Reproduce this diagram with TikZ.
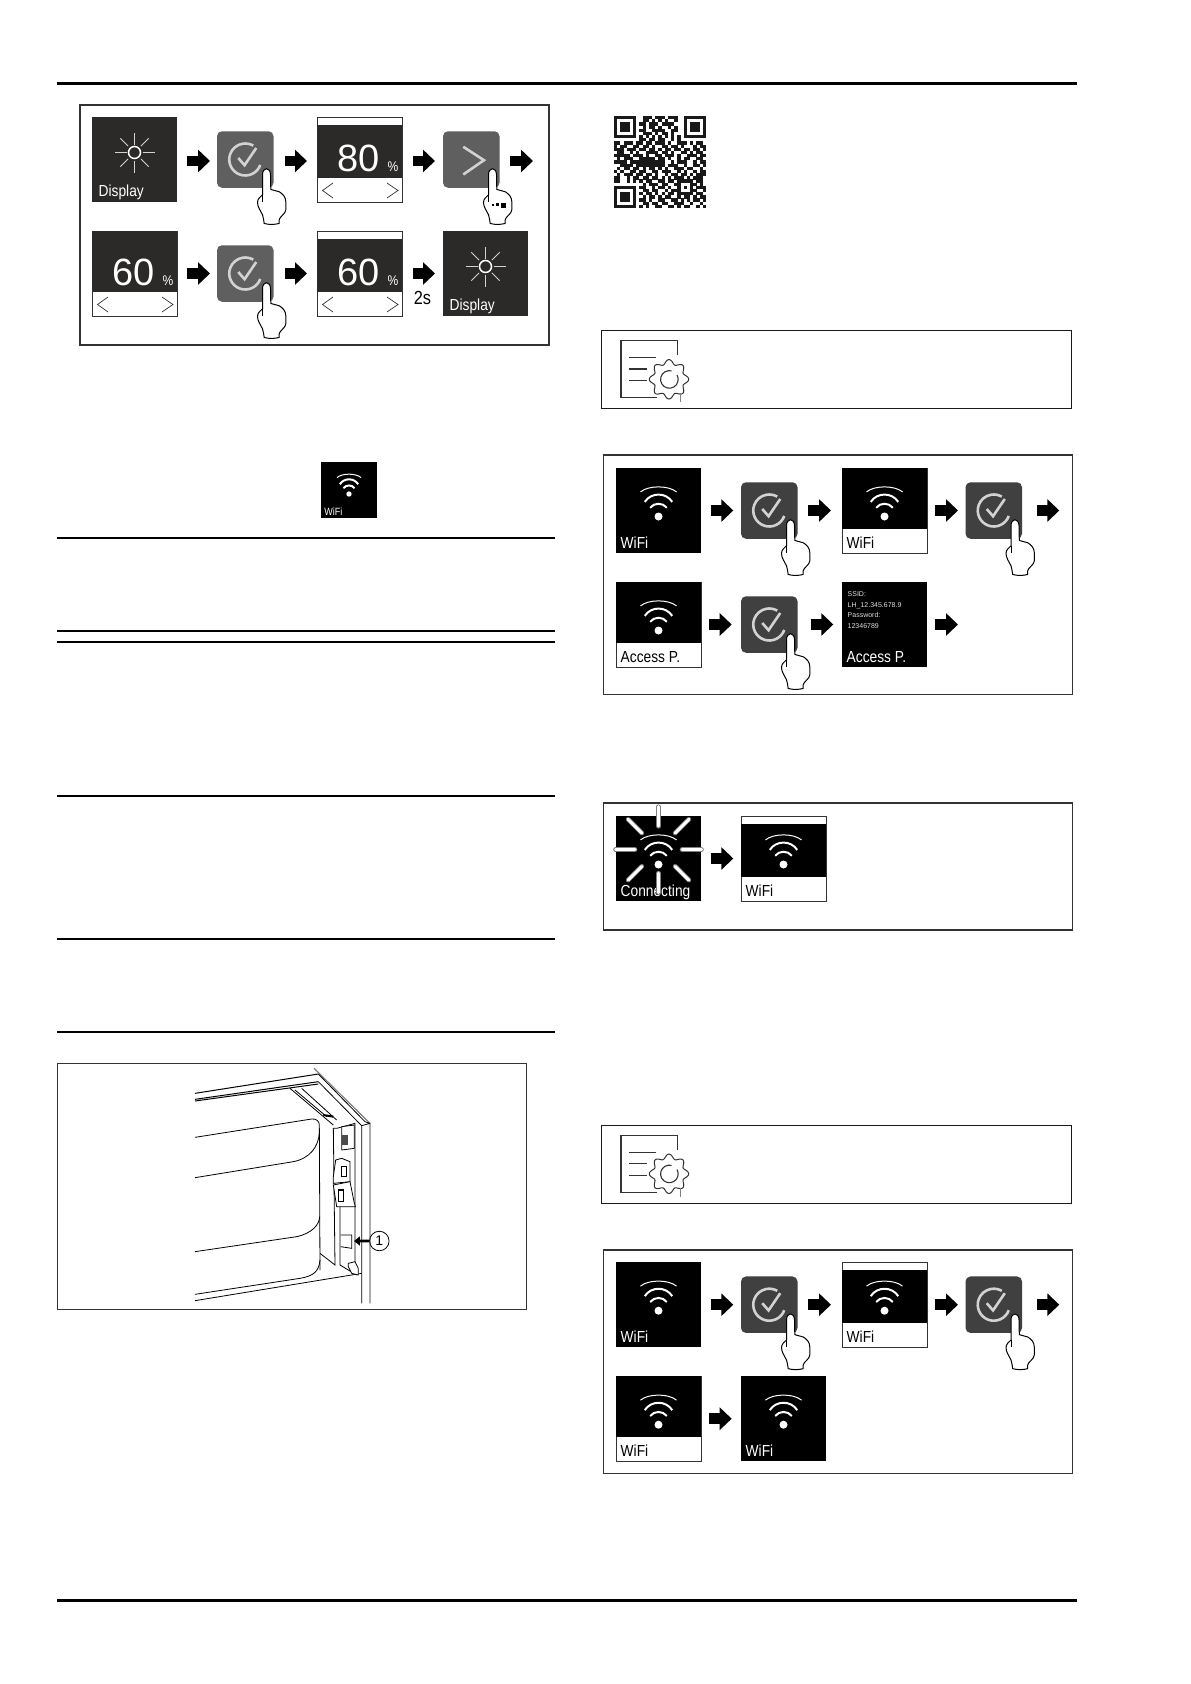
\documentclass[tikz,border=0pt]{standalone}
\usepackage{fontspec}
\usepackage{tikz}
\usetikzlibrary{arrows.meta,positioning}
\setmainfont{Liberation Sans}
\newfontfamily\lcdfont[FakeStretch=0.86]{Liberation Sans}
\definecolor{slate}{HTML}{2B2A29}
\definecolor{btnA}{HTML}{5F5F5F}
\definecolor{btnB}{HTML}{404040}
\definecolor{framegray}{HTML}{333333}
\definecolor{glyph}{HTML}{D2D2D2}
\newcommand{\Band}[3]{\fill[#3] ([yshift=-#2]#1.north west) rectangle ([yshift=24pt]#1.south east);}
\newcommand{\Caption}[4][xshift=4.5pt,yshift=5pt]{\node[caption, text=#4] (#2txt) at ([#1]#2.south west) {#3};}
\newcommand{\Sun}[1]{\begin{scope}[shift={(#1)}, yshift=7pt]
    \draw[white, line width=1.5pt] (0,0) circle (6);
    \foreach \a in {0,90,180,270} \draw[glyph, line width=.9pt] (\a:8) -- (\a:20);
    \foreach \a in {45,135,225,315} \draw[glyph, line width=.9pt] (\a:9) -- (\a:20);
  \end{scope}}
\newcommand{\Wlan}[2][1]{\begin{scope}[shift={(#2)}, scale=#1]
    \fill[white] (0,6) circle (4);
    \draw[white, line width=2pt] (-8.3,-2.7) .. controls (-4.5,-8.1) and (4.5,-8.1) .. (8.3,-2.7);
    \draw[white, line width=2pt] (-13.7,-8.6) .. controls (-7.5,-18.4) and (7.5,-18.4) .. (13.7,-8.6);
    \draw[white, line width=1pt] (-18,-18.6) .. controls (-10,-25.3) and (10,-25.3) .. (18,-18.6);
  \end{scope}}
\newcommand{\Tick}[1]{\begin{scope}[shift={(#1)}]
    \draw[glyph, line width=2.6pt] (20:16) arc[start angle=20, end angle=300, radius=16];
    \draw[glyph, line width=2.6pt] (-7,-1.5) -- (-.7,5.7) -- (11,-11.5);
  \end{scope}}
\newcommand{\Hand}[1]{\begin{scope}[shift={(#1.south east)}]
    \draw[fill=white, line width=1pt] (-11,7) -- (-11,-13) .. controls (-11,-21) and (-3,-21) .. (-3,-13) -- (-2.7,1.7)
      .. controls (1,2) and (2,3) .. (5.7,4) .. controls (9,6) and (12.3,9) .. (12.3,14) -- (12.3,22)
      .. controls (12.3,26) and (6,29) .. (5.7,32) -- (5.7,35.7) .. controls (1,37) and (-5,37) .. (-9.3,35.7)
      .. controls (-10,32) and (-10,30) .. (-11,27) .. controls (-13,23) and (-16,19) .. (-16,14.7)
      .. controls (-16,11) and (-13,9) .. (-11,7) -- cycle;
    \draw[line width=.7pt] (-11,7) -- (-11,14);
  \end{scope}}
\newcommand{\Readout}[2]{\node[valuetext] (#1val) at ([xshift=-1pt,yshift=1pt]#1) {#2};
  \node[pcttext] (#1pct) at ([xshift=33.5pt,yshift=-7.5pt]#1) {\%};
  \begin{scope}[shift={(#1)}]
    \draw[framegray, line width=.7pt] (-26.5,23.5) -- (-37,31) -- (-26.5,38.5);
    \draw[framegray, line width=.7pt] (27.5,23.5) -- (38.5,31) -- (27.5,38.5);
  \end{scope}}
\newcommand{\Note}[1]{\begin{scope}[yshift=-#1]
    \draw[line width=.9pt, draw=black!90] (601.5,330.5) rectangle (1071.5,408.5);
    \draw[framegray, line width=1.1pt] (677.3,355) -- (677.3,340.7) -- (621,340.7) -- (621,397.7) -- (656.7,397.7);
    \draw[framegray, line width=1.1pt] (629.3,357.7) -- (655.7,357.7) (629.3,369) -- (646.7,369) (629.3,380.7) -- (646.7,380.7);
    \draw[framegray, line width=1pt, fill=white, domain=0:360, samples=145, smooth cycle]
      plot ({669+(17.5+2.2*cos(8*\x))*cos(\x)},{379.3+(17.5+2.2*cos(8*\x))*sin(\x)});
    \draw[framegray, line width=1.1pt] (677,375) arc[start angle=-30, end angle=285, radius=8.8];
    \draw[gray, line width=.6pt] (680,393) -- (680,402);
  \end{scope}}
\newcommand{\QRscan}[1]{\ifx#1;\else\if#11\fill (\c,\r) rectangle ++(1.02,1.02);\fi
  \pgfmathtruncatemacro\c{\c+1}\expandafter\QRscan\fi}

\begin{document}
\begin{tikzpicture}[
    x=1pt, y=-1pt,
    tile/.style={minimum size=85pt, inner sep=0pt, outer sep=0pt},
    darktile/.style={tile, fill=slate},
    blacktile/.style={tile, fill=black},
    valuetile/.style={tile, fill=white, draw=framegray, line width=.8pt},
    okbtn/.style={minimum size=56.5pt, inner sep=0pt, outer sep=0pt, rounded corners=5pt, fill=#1},
    caption/.style={anchor=base west, inner sep=0pt, font=\lcdfont\fontsize{16}{16}\selectfont},
    valuetext/.style={inner sep=0pt, text=white, font=\fontsize{38}{38}\selectfont},
    pcttext/.style={inner sep=0pt, text=white, font=\lcdfont\fontsize{14}{14}\selectfont},
    panel/.style={draw=framegray, line width=1.5pt},
    rulefine/.style={line width=2pt},
    rulewide/.style={line width=3pt},
    flow/.style 2 args={-{Triangle[length=12pt,width=22pt]}, line width=10.5pt, shorten <=#1, shorten >=#2},
    ray/.style={line cap=round, draw=gray, double=white, double distance=3pt, line width=.8pt},
    part/.style={line width=.8pt}
  ]
    \useasboundingbox (0,0) rectangle (1191,1684);
    \fill[white] (0,0) rectangle (1191,1684);
    % page rules
    \draw[rulewide] (57,83) -- (1077,83);
    \draw[rulewide] (57,1600.5) -- (1077,1600.5);
    \foreach \y in {538,631,642,796,939,1032} \draw[rulefine] (57,\y) -- (555,\y);
    \draw[panel] (80,105) rectangle (549,345);
    \draw[panel] (603.7,455) rectangle (1072.7,694.3);
    \draw[panel] (603.7,803) rectangle (1072.7,930);
    \draw[panel] (603.7,1250) rectangle (1072.7,1473.7);
    \Note{0pt}
    \Note{794.5pt}

    % brightness panel
    \node[darktile] (dispA) at (134.5,159.5) {};
    \node[okbtn=btnA, right=40pt of dispA] (okA) {};
    \node[valuetile, right=43.5pt of okA] (valA) {};
    \node[okbtn=btnA, right=41pt of valA] (moreA) {};
    \coordinate[right=33.5pt of moreA] (endA);
    \node[valuetile, below=29pt of dispA] (pctB) {};
    \node[okbtn=btnA, right=40pt of pctB] (okB) {};
    \node[valuetile, right=43.5pt of okB] (valB) {};
    \node[darktile, right=41pt of valB] (dispB) {};
    \Band{valA}{8pt}{slate}
    \Band{pctB}{0pt}{slate}
    \Band{valB}{8pt}{slate}
    \Sun{dispA}
    \Sun{dispB}
    \Caption[xshift=6.5pt,yshift=6pt]{dispA}{Display}{white}
    \Caption[xshift=6.5pt,yshift=6pt]{dispB}{Display}{white}
    \Readout{valA}{80}
    \Readout{pctB}{60}
    \Readout{valB}{60}
    \Tick{okA}
    \Tick{okB}
    \begin{scope}[shift={(moreA)}]
      \draw[glyph, line width=2.6pt] (-8,-12.7) -- (12.7,.7) -- (-8,15);
    \end{scope}
    \Hand{okA}
    \Hand{okB}
    \Hand{moreA}
    \fill ([xshift=-8pt,yshift=-16pt]moreA.south east) rectangle ++(2,2);
    \fill ([xshift=-4pt,yshift=-15.5pt]moreA.south east) rectangle ++(3,3);
    \fill ([xshift=1.5pt,yshift=-15pt]moreA.south east) rectangle ++(5,5);
    \draw[flow={10pt}{7pt}] ([yshift=-1.5pt]dispA.east) -- ([yshift=-1.5pt]okA.west);
    \draw[flow={11.5pt}{10pt}] ([yshift=-1.5pt]okA.east) -- ([yshift=-1.5pt]valA.west);
    \draw[flow={11pt}{8pt}] ([yshift=-1.5pt]valA.east) -- ([yshift=-1.5pt]moreA.west);
    \draw[flow={10.5pt}{0pt}] ([yshift=-1.5pt]moreA.east) -- ([yshift=-1.5pt]endA);
    \draw[flow={10pt}{7pt}] (pctB) -- (okB);
    \draw[flow={11.5pt}{10pt}] (okB) -- (valB);
    \draw[flow={11pt}{8pt}] (valB) -- node[midway, below=9pt, font=\lcdfont\fontsize{19}{19}\selectfont] (waitB) {2s} (dispB);

    % small symbol
    \node[tile, fill=black, minimum size=56.5pt] (wlanSmall) at (349,490) {};
    \Wlan[.67]{wlanSmall}
    \node[anchor=base west, inner sep=0pt, text=white, font=\lcdfont\fontsize{10.5}{10.5}\selectfont] (wlanSmalltxt) at ([xshift=3.4pt,yshift=2.8pt]wlanSmall.south west) {WiFi};

    % access point panel
    \node[blacktile] (wlanA) at (658.5,510.5) {};
    \node[okbtn=btnB, right=40pt of wlanA] (okC) {};
    \node[valuetile, right=44.5pt of okC] (wlanB) {};
    \node[okbtn=btnB, right=38.5pt of wlanB] (okD) {};
    \coordinate[right=37.3pt of okD] (endC);
    \node[valuetile, below=29pt of wlanA] (accessA) {};
    \node[okbtn=btnB, right=40pt of accessA] (okE) {};
    \node[blacktile, right=44.5pt of okE] (ssidA) {};
    \coordinate[right=31pt of ssidA] (endD);
    \Band{wlanB}{0pt}{black}
    \Band{accessA}{0pt}{black}
    \Wlan{wlanA}
    \Wlan{wlanB}
    \Wlan{accessA}
    \Caption{wlanA}{WiFi}{white}
    \Caption{wlanB}{WiFi}{black}
    \Caption{accessA}{Access P.}{black}
    \Caption{ssidA}{Access P.}{white}
    \node[anchor=north west, inner sep=0pt, align=left, text=gray!25, font=\fontsize{7}{10.5}\selectfont] (ssidAdata) at ([xshift=5.5pt,yshift=-9.5pt]ssidA.north west) {SSID:\\LH\_12.345.678.9\\Password:\\12346789};
    \foreach \n in {okC,okD,okE} {\Tick{\n}\Hand{\n}}
    \draw[flow={10pt}{7.7pt}] (wlanA) -- (okC);
    \draw[flow={10.8pt}{11pt}] (okC) -- (wlanB);
    \draw[flow={8.3pt}{7.5pt}] (wlanB) -- (okD);
    \draw[flow={15pt}{0pt}] (okD) -- (endC);
    \draw[flow={8pt}{9.3pt}] (accessA) -- (okE);
    \draw[flow={13.2pt}{8.7pt}] (okE) -- (ssidA);
    \draw[flow={8.3pt}{0pt}] (ssidA) -- (endD);

    % connecting panel
    \node[blacktile] (connA) at (658.5,858.5) {};
    \node[valuetile, right=40pt of connA] (wlanC) {};
    \Band{wlanC}{8pt}{black}
    \Wlan{connA}
    \Wlan{wlanC}
    \Caption{connA}{Connecting}{white}
    \Caption{wlanC}{WiFi}{black}
    \begin{scope}[shift={(connA)}, yshift=8.8pt]
      \foreach \a in {0,45,...,315} \draw[ray] (\a:23.5) -- (\a:43);
    \end{scope}
    \draw[flow={10pt}{7.7pt}] (connA) -- (wlanC);

    % reset panel
    \node[blacktile] (wlanD) at (658.5,1304.7) {};
    \node[okbtn=btnB, right=40pt of wlanD] (okF) {};
    \node[valuetile, right=44.5pt of okF] (wlanE) {};
    \node[okbtn=btnB, right=38.5pt of wlanE] (okG) {};
    \coordinate[right=37.3pt of okG] (endF);
    \node[valuetile, below=29pt of wlanD] (wlanF) {};
    \node[blacktile, right=40pt of wlanF] (wlanG) {};
    \Band{wlanE}{8pt}{black}
    \Band{wlanF}{0pt}{black}
    \foreach \n in {wlanD,wlanE,wlanF,wlanG} {\Wlan{\n}}
    \Caption{wlanD}{WiFi}{white}
    \Caption{wlanE}{WiFi}{black}
    \Caption{wlanF}{WiFi}{black}
    \Caption{wlanG}{WiFi}{white}
    \foreach \n in {okF,okG} {\Tick{\n}\Hand{\n}}
    \draw[flow={10pt}{7.7pt}] (wlanD) -- (okF);
    \draw[flow={10.8pt}{11pt}] (okF) -- (wlanE);
    \draw[flow={8.3pt}{7.5pt}] (wlanE) -- (okG);
    \draw[flow={15pt}{0pt}] (okG) -- (endF);
    \draw[flow={8pt}{9.3pt}] (wlanF) -- (wlanG);

    % qr code
    \begin{scope}[shift={(614,112.83)}, scale=3.172, fill=black!90]
      \foreach \code [count=\r] in {
        1111111 0 0111011101110 0 1111111,
        1000001 0 0110101010010 0 1000001,
        1011101 0 1101110111100 0 1011101,
        1011101 0 0101101001010 0 1011101,
        1011101 0 1100111100110 0 1011101,
        1000001 0 0111010110100 0 1000001,
        1111111 0 1010101010101 0 1111111,
        00000000 1101101100101 00000000,
        11011101 1011011101001 11010110,
        10110011 0110100110110 10001011,
        11101110 1101101011011 01101101,
        01100101 0011110110100 11010110,
        11111011 1010011011101 00111011,
        01011100 1111101101001 01100110,
        11110111 1111111100101 11001011,
        00111101 1111111101110 01001101,
        01011011 0101101010011 10110010,
        10100110 1100110111001 01001011,
        01011101 1011010010110 11010111,
        11001011 0110110101011 10101110,
        11001010 101100110110 11111 0110,
        00000000 010111011001 10001 1010,
        11111110 110010110100 10101 0111,
        10000010 011011001011 10001 1001,
        10111010 101101010110 11111 0110,
        10111010 010110101100 10110 1011,
        10111010 110100110011 01010 1101,
        10000010 011011011001 11001 0010,
        11111110 101001100110 10110 0101}
        {\def\c{0}\expandafter\QRscan\code;}
    \end{scope}

    % door hinge drawing
    \draw[framegray, line width=1pt] (57,1063) rectangle (526,1309);
    \begin{scope}[shift={(170,1060)}, scale=1/3]
      \draw[part, line width=1pt] (75,100) -- (445,42) (75,118) -- (445,65) (75,123) -- (445,72);
      \draw[gray, line width=1.2pt] (432,25) -- (600,190) -- (600,730);
      \draw[part] (445,42) -- (585,185) -- (600,190) (445,65) -- (575,197) -- (575,730) (575,197) -- (600,190);
      \draw[part] (360,85) -- (490,195) (395,85) -- (500,180) (375,90) -- (470,170);
      \draw[line width=2pt] (460,165) -- (490,170);
      \draw[part] (75,232) -- (425,177) .. controls (440,175) and (448,185) .. (448,195) -- (450,630);
      \draw[part] (75,353) -- (370,305) .. controls (420,295) and (445,260) .. (448,220);
      \draw[part] (75,575) -- (380,530) .. controls (425,520) and (448,495) .. (449,470);
      \draw[part] (75,703) -- (390,655) .. controls (430,648) and (447,635) .. (450,600);
      \draw[part] (75,722) -- (575,640);
      \draw[part] (450,580) -- (495,615) -- (490,205) -- (500,205) -- (555,190) -- (555,620);
      \draw[part] (510,440) -- (510,615) -- (560,645);
      \draw[part, fill=white] (515,200) -- (553,195) -- (553,265) -- (515,270) -- cycle;
      \fill[gray!60!black] (515,225) rectangle (535,255);
      \draw[part, fill=white] (497,300) -- (515,295) -- (540,305) -- (540,365) -- (490,370) -- (490,350) -- cycle;
      \draw[part] (515,320) rectangle (530,350);
      \draw[part, fill=white] (490,375) -- (540,365) -- (552,425) -- (556,440) -- (500,440) -- cycle;
      \draw[line width=1.2pt] (505,390) rectangle (520,425);
      \draw[part] (512,525) -- (545,525) -- (545,565) -- (512,560);
      \draw[part, fill=white] (535,610) -- (555,605) -- (565,625) -- (565,645) -- (545,640) -- (535,620) -- cycle;
      \node[circle, draw, line width=.8pt, minimum size=19.5pt, inner sep=0pt, font=\fontsize{14}{14}\selectfont] (callout) at (628,543) {1};
      \coordinate (slot) at (552,543);
      \draw[-{Triangle[length=6pt,width=9pt]}, line width=2.8pt] (callout) -- (slot);
    \end{scope}
  \end{tikzpicture}
\end{document}
